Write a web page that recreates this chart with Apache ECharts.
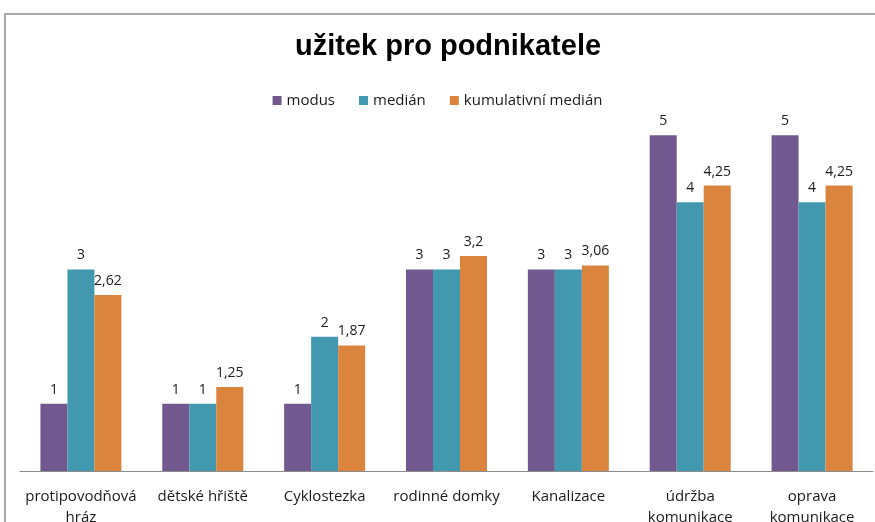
<!DOCTYPE html>
<html>
<head>
<meta charset="utf-8">
<script src="https://cdn.jsdelivr.net/npm/echarts@6/dist/echarts.min.js"></script>
<style>
  html, body { margin: 0; padding: 0; background: #fff; }
  #chart { width: 875px; height: 522px; }
</style>
</head>
<body>
<div id="chart"></div>
<script>
var categories = ['protipovodňová\nhráz', 'dětské hřiště', 'Cyklostezka', 'rodinné domky', 'Kanalizace', 'údržba\nkomunikace', 'oprava\nkomunikace'];
var modus = [1, 1, 1, 3, 3, 5, 5];
var median = [3, 1, 2, 3, 3, 4, 4];
var kumulativni = [2.62, 1.25, 1.87, 3.2, 3.06, 4.25, 4.25];
var seriesNames = ['modus', 'medián', 'kumulativní medián'];
var colors = ['#71588f', '#4198af', '#db843d'];

var font = 'Open Sans, Liberation Sans, sans-serif';

function fmt(p) {
  return String(p.value).replace('.', ',');
}

function bar(name, data, color) {
  return {
    name: name,
    type: 'bar',
    data: data,
    barWidth: 27,
    barGap: '0%',
    itemStyle: { color: color },
    label: {
      show: true,
      position: 'top',
      distance: 7,
      formatter: fmt,
      color: '#1a1a1a',
      fontFamily: font,
      fontSize: 14
    }
  };
}

var chart = echarts.init(document.getElementById('chart'));
chart.setOption({
  animation: false,
  color: colors,
  title: {
    text: 'užitek pro podnikatele',
    left: 443,
    textAlign: 'center',
    top: 27,
    textStyle: {
      fontFamily: 'Liberation Sans, sans-serif',
      fontWeight: 'bold',
      fontSize: 29,
      color: '#000'
    }
  },
  legend: {
    data: seriesNames,
    top: 88,
    left: 'center',
    itemWidth: 9,
    itemHeight: 9,
    itemGap: 24,
    icon: 'rect',
    textStyle: { fontFamily: font, fontSize: 15, color: '#1a1a1a' }
  },
  graphic: [{
    type: 'rect',
    shape: { x: 5, y: 14, width: 900, height: 540 },
    style: { fill: 'none', stroke: '#8c8c8c', lineWidth: 1.5 },
    silent: true
  }],
  grid: { left: 20, right: 2, top: 68, bottom: 51, containLabel: false, outerBoundsMode: 'none' },
  xAxis: {
    type: 'category',
    data: categories,
    axisLine: { lineStyle: { color: '#8c8c8c', width: 1 } },
    axisTick: { show: false },
    axisLabel: {
      interval: 0,
      margin: 15,
      color: '#1a1a1a',
      fontFamily: font,
      fontSize: 15,
      lineHeight: 21
    }
  },
  yAxis: {
    type: 'value',
    min: 0,
    max: 6,
    show: false,
    splitLine: { show: false }
  },
  series: [
    bar(seriesNames[0], modus, colors[0]),
    bar(seriesNames[1], median, colors[1]),
    bar(seriesNames[2], kumulativni, colors[2])
  ]
});
</script>
</body>
</html>
